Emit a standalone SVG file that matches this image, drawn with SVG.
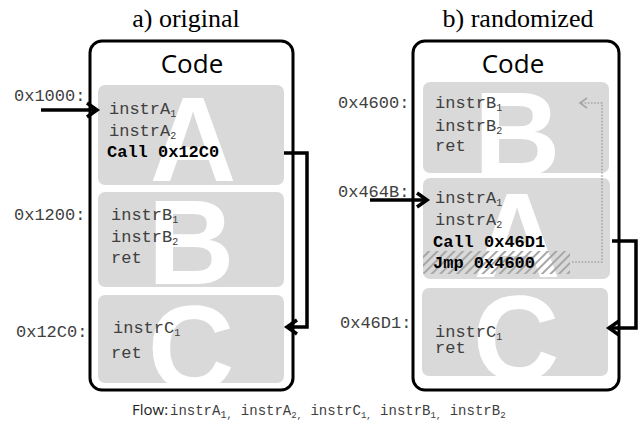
<svg xmlns="http://www.w3.org/2000/svg" width="642" height="429" viewBox="0 0 642 429">
<defs>
<style>
.title{font-family:"Liberation Serif",serif;font-size:26px;fill:#000;text-anchor:middle}
.code{font-family:"Open Sans",sans-serif;font-size:26px;fill:#000;text-anchor:middle}
.frame{fill:#fff;stroke:#000;stroke-width:3}
.blk{fill:#d9d9d9}
.big{font-family:"Liberation Sans",sans-serif;font-weight:bold;font-size:120px;fill:#fff;text-anchor:middle}
.ins{font-family:"Liberation Mono",monospace;font-size:17px;fill:#404040}
.bold{font-family:"Liberation Mono",monospace;font-size:17px;font-weight:bold;fill:#000}
.sub{font-size:10px}
.conn{fill:none;stroke:#000;stroke-width:3.5}
.dot{fill:none;stroke:#a6a6a6;stroke-width:1.6;stroke-dasharray:1.6 1.6}
.flow{font-family:"Open Sans",sans-serif;font-size:15px;fill:#222}
.flowc{font-family:"Liberation Mono",monospace;font-size:14px;fill:#404040}
</style>
<marker id="chev" markerUnits="userSpaceOnUse" markerWidth="24" markerHeight="24" viewBox="-14 -12 16 24" refX="0" refY="0" orient="auto">
<path d="M-10,-7 L0,0 L-10,7" fill="none" stroke="#000" stroke-width="3.5"/>
</marker>
<marker id="chevg" markerUnits="userSpaceOnUse" markerWidth="16" markerHeight="16" viewBox="-10 -8 12 16" refX="0" refY="0" orient="auto">
<path d="M-7,-5 L0,0 L-7,5" fill="none" stroke="#a6a6a6" stroke-width="1.6"/>
</marker>
<pattern id="hatch" width="6" height="6" patternUnits="userSpaceOnUse" patternTransform="rotate(45)">
<line x1="1" y1="0" x2="1" y2="6" stroke="#a6a6a6" stroke-width="2"/>
</pattern>
<clipPath id="cLA"><rect x="98" y="85" width="186" height="100" rx="7"/></clipPath>
<clipPath id="cLB"><rect x="98" y="192" width="186" height="95" rx="7"/></clipPath>
<clipPath id="cLC"><rect x="98" y="295" width="186" height="88" rx="7"/></clipPath>
<clipPath id="cRB"><rect x="423" y="82" width="186" height="91" rx="7"/></clipPath>
<clipPath id="cRA"><rect x="423" y="178" width="187" height="101" rx="7"/></clipPath>
<clipPath id="cRC"><rect x="422" y="288" width="186" height="88" rx="7"/></clipPath>
</defs>

<g id="titles">
<text class="title" x="186" y="27">a) original</text>
<text class="title" x="518" y="27">b) randomized</text>
</g>

<g id="left-frame">
<rect class="frame" x="90" y="41" width="203" height="349" rx="12"/>
<text class="code" x="192" y="73">Code</text>
</g>

<g id="left-A">
<rect class="blk" x="98" y="85" width="186" height="100" rx="7"/>
<text class="big" x="193" y="181" clip-path="url(#cLA)">A</text>
<text class="ins" x="14" y="101">0x1000:</text>
<text class="ins" x="109" y="114">instrA<tspan class="sub" dy="3">1</tspan></text>
<text class="ins" x="109" y="136">instrA<tspan class="sub" dy="3">2</tspan></text>
<text class="bold" x="107" y="157">Call 0x12C0</text>
</g>

<g id="left-B">
<rect class="blk" x="98" y="192" width="186" height="95" rx="7"/>
<text class="big" x="191" y="284" clip-path="url(#cLB)">B</text>
<text class="ins" x="14" y="220">0x1200:</text>
<text class="ins" x="111" y="220">instrB<tspan class="sub" dy="3">1</tspan></text>
<text class="ins" x="111" y="242">instrB<tspan class="sub" dy="3">2</tspan></text>
<text class="ins" x="111" y="263">ret</text>
</g>

<g id="left-C">
<rect class="blk" x="98" y="295" width="186" height="88" rx="7"/>
<text class="big" x="191" y="390" clip-path="url(#cLC)">C</text>
<text class="ins" x="16" y="337">0x12C0:</text>
<text class="ins" x="113" y="333">instrC<tspan class="sub" dy="3">1</tspan></text>
<text class="ins" x="111" y="358">ret</text>
</g>

<g id="right-frame">
<rect class="frame" x="413" y="41" width="206" height="349" rx="12"/>
<text class="code" x="513" y="73">Code</text>
</g>

<g id="right-B">
<rect class="blk" x="423" y="82" width="186" height="91" rx="7"/>
<text class="big" x="517" y="176" clip-path="url(#cRB)">B</text>
<text class="ins" x="338" y="108">0x4600:</text>
<text class="ins" x="435" y="108">instrB<tspan class="sub" dy="3">1</tspan></text>
<text class="ins" x="435" y="131">instrB<tspan class="sub" dy="3">2</tspan></text>
<text class="ins" x="435" y="151">ret</text>
</g>

<g id="right-A">
<rect class="blk" x="423" y="178" width="187" height="101" rx="7"/>
<text class="big" x="517" y="277" clip-path="url(#cRA)">A</text>
<rect x="423" y="251" width="147" height="23" fill="url(#hatch)" clip-path="url(#cRA)"/>
<text class="ins" x="338" y="197">0x464B:</text>
<text class="ins" x="435" y="203">instrA<tspan class="sub" dy="3">1</tspan></text>
<text class="ins" x="435" y="225">instrA<tspan class="sub" dy="3">2</tspan></text>
<text class="bold" x="433" y="247">Call 0x46D1</text>
<text class="bold" x="433" y="268">Jmp 0x4600</text>
</g>

<g id="right-C">
<rect class="blk" x="422" y="288" width="186" height="88" rx="7"/>
<text class="big" x="516" y="380" clip-path="url(#cRC)">C</text>
<text class="ins" x="340" y="328">0x46D1:</text>
<text class="ins" x="435" y="337">instrC<tspan class="sub" dy="3">1</tspan></text>
<text class="ins" x="435" y="353">ret</text>
</g>

<g id="connectors">
<path class="conn" d="M41,110 H97" marker-end="url(#chev)"/>
<path class="conn" d="M284,153 H307 V327 H287" marker-end="url(#chev)"/>
<path class="conn" d="M370,200 H427" marker-end="url(#chev)"/>
<path class="conn" d="M612,241 H636 V328 H609" marker-end="url(#chev)"/>
<path class="dot" d="M572,262 H602 V103 H580" marker-end="url(#chevg)"/>
</g>

<g id="flow">
<text class="flow" x="132" y="415">Flow:</text>
<text class="flowc" x="170" y="415">instrA<tspan class="sub" font-size="9" dy="3">1,</tspan><tspan dy="-3"> instrA</tspan><tspan font-size="9" dy="3">2,</tspan><tspan dy="-3">  instrC</tspan><tspan font-size="9" dy="3">1,</tspan><tspan dy="-3"> instrB</tspan><tspan font-size="9" dy="3">1,</tspan><tspan dy="-3"> instrB</tspan><tspan font-size="9" dy="3">2</tspan></text>
</g>
</svg>
